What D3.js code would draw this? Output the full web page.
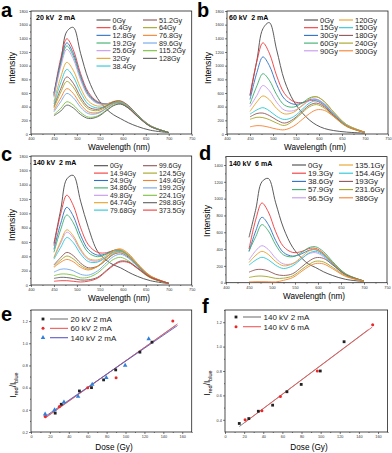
<!DOCTYPE html>
<html lang="en">
<head>
<meta charset="UTF-8" />
<title>Spectra and ratio panels</title>
<script src="https://cdn.jsdelivr.net/npm/d3@7"></script>
<style>
  body { margin: 0; background: #fff; }
  svg { display: block; font-family: Arial, "Liberation Sans", sans-serif; }
  text { white-space: pre; }
</style>
</head>
<body>
<script>
// wavelength grid shared by all spectra (nm)
const wavelengths = [450, 465, 478, 492, 508, 525, 545, 565, 580, 595, 612, 632, 660, 700];

// (a) 20 kV 2 mA
const aLabels = ["0Gy", "6.4Gy", "12.8Gy", "19.2Gy", "25.6Gy", "32Gy", "38.4Gy",
  "51.2Gy", "64Gy", "76.8Gy", "89.6Gy", "115.2Gy", "128Gy"];
const aValues = [
  [600, 1060, 1500, 1560, 1180, 800, 520, 360, 280, 225, 165, 110, 55, 20],
  [589, 1114, 1394, 1235, 885, 611, 474, 440, 456, 446, 378, 255, 109, 20],
  [569, 1066, 1334, 1182, 849, 588, 463, 440, 461, 453, 385, 260, 112, 20],
  [554, 1030, 1289, 1143, 822, 571, 456, 441, 467, 461, 393, 265, 115, 21],
  [538, 990, 1239, 1100, 791, 553, 447, 442, 472, 469, 401, 271, 116, 21],
  [475, 838, 1049, 933, 674, 480, 409, 433, 478, 482, 413, 280, 120, 22],
  [440, 754, 944, 840, 609, 436, 381, 414, 462, 468, 402, 272, 118, 22],
  [404, 666, 835, 744, 542, 395, 361, 415, 472, 483, 417, 282, 122, 23],
  [382, 614, 769, 686, 500, 368, 342, 400, 459, 471, 406, 275, 119, 22],
  [348, 530, 664, 594, 435, 324, 313, 380, 442, 456, 395, 268, 116, 22],
  [325, 474, 594, 532, 392, 298, 300, 379, 446, 464, 402, 273, 118, 22],
  [284, 376, 472, 425, 316, 247, 265, 354, 424, 444, 386, 262, 114, 21],
  [268, 337, 423, 382, 285, 227, 252, 344, 415, 437, 380, 258, 112, 21]
];

// (b) 60 kV 2 mA
const bLabels = ["0Gy", "15Gy", "30Gy", "60Gy", "90Gy", "120Gy", "150Gy", "180Gy", "240Gy", "300Gy"];
const bValues = [
  [560, 1080, 1540, 1630, 1230, 780, 480, 300, 200, 130, 80, 50, 28, 12],
  [570, 1066, 1334, 1183, 851, 592, 474, 461, 489, 483, 411, 278, 120, 22],
  [505, 900, 1128, 1002, 724, 513, 436, 457, 502, 505, 433, 293, 127, 23],
  [440, 705, 882, 787, 575, 422, 394, 462, 530, 545, 471, 319, 138, 26],
  [400, 565, 709, 634, 465, 349, 342, 420, 491, 508, 440, 299, 129, 24],
  [330, 470, 557, 502, 373, 294, 319, 430, 517, 542, 472, 320, 138, 26],
  [290, 353, 385, 340, 258, 212, 253, 371, 455, 485, 424, 288, 124, 24],
  [250, 300, 306, 270, 205, 160, 220, 342, 424, 452, 395, 269, 114, 22],
  [215, 244, 240, 210, 160, 125, 200, 321, 401, 430, 376, 256, 109, 21],
  [105, 122, 118, 98, 72, 62, 115, 221, 302, 354, 345, 254, 115, 25]
];

// (c) 140 kV 2 mA
const cLabels = ["0Gy", "14.94Gy", "24.9Gy", "34.86Gy", "49.8Gy", "64.74Gy", "79.68Gy",
  "99.6Gy", "124.5Gy", "149.4Gy", "199.2Gy", "224.1Gy", "298.8Gy", "373.5Gy"];
const cValues = [
  [580, 1060, 1480, 1530, 1170, 800, 470, 340, 280, 240, 180, 120, 60, 20],
  [550, 1001, 1253, 1112, 800, 560, 455, 451, 483, 480, 409, 277, 119, 22],
  [497, 866, 1084, 963, 696, 494, 417, 438, 481, 483, 414, 280, 120, 22],
  [457, 780, 977, 869, 630, 452, 395, 432, 482, 489, 420, 285, 123, 23],
  [381, 588, 737, 658, 480, 355, 334, 396, 456, 469, 405, 275, 118, 22],
  [383, 614, 770, 687, 502, 370, 350, 414, 477, 491, 424, 287, 125, 23],
  [361, 528, 662, 592, 434, 326, 320, 394, 460, 476, 412, 280, 121, 23],
  [280, 385, 455, 410, 306, 240, 263, 355, 428, 448, 389, 265, 115, 22],
  [259, 349, 404, 365, 274, 223, 258, 363, 442, 466, 406, 276, 119, 23],
  [246, 319, 357, 325, 247, 210, 260, 385, 476, 504, 440, 299, 129, 25],
  [180, 220, 222, 198, 149, 138, 196, 316, 399, 429, 376, 255, 109, 21],
  [130, 153, 152, 135, 100, 107, 168, 282, 359, 386, 338, 230, 99, 19],
  [92, 107, 104, 90, 70, 72, 107, 208, 285, 334, 323, 238, 109, 24],
  [52, 60, 60, 52, 42, 54, 95, 197, 274, 322, 314, 231, 106, 23]
];

// (d) 140 kV 6 mA
const dLabels = ["0Gy", "19.3Gy", "38.6Gy", "57.9Gy", "96.5Gy", "135.1Gy", "154.4Gy", "193Gy", "231.6Gy", "386Gy"];
const dValues = [
  [540, 880, 1200, 1240, 950, 650, 420, 290, 220, 180, 130, 85, 40, 14],
  [400, 757, 948, 842, 607, 430, 360, 372, 406, 408, 350, 236, 102, 19],
  [370, 621, 778, 692, 502, 360, 316, 345, 385, 391, 336, 228, 99, 18],
  [378, 552, 691, 617, 450, 331, 309, 362, 416, 427, 369, 250, 108, 20],
  [271, 382, 440, 395, 291, 223, 227, 290, 344, 357, 310, 211, 91, 17],
  [240, 327, 373, 336, 252, 201, 226, 310, 376, 395, 343, 234, 101, 19],
  [209, 270, 302, 273, 207, 169, 202, 288, 352, 372, 324, 220, 96, 18],
  [125, 155, 158, 140, 100, 86, 107, 190, 255, 297, 289, 212, 96, 21],
  [62, 77, 79, 70, 52, 54, 81, 159, 217, 255, 247, 182, 83, 18],
  [10, 12, 12, 11, 9, 28, 61, 137, 193, 228, 223, 165, 75, 16]
];

// (e) ratio vs dose
const e20Dose = [25.6, 32, 51.2, 64, 76.8, 89.6, 115.2, 128];
const e20Ratio = [0.37, 0.45, 0.57, 0.60, 0.67, 0.76, 0.92, 1.01];
const e60Dose = [15, 30, 60, 90, 150];
const e60Ratio = [0.34, 0.43, 0.60, 0.69, 1.20];
const e140Dose = [14.94, 24.9, 34.86, 49.8, 64.74, 79.68, 99.6, 124.5];
const e140Ratio = [0.36, 0.40, 0.47, 0.52, 0.63, 0.69, 0.80, 1.04];
const eFitDose = [[15, 153], [15, 155], [15, 155]];
const eFitRatio = [[0.33, 1.16], [0.325, 1.175], [0.34, 1.16]];

// (f) ratio vs dose, 2 mA vs 6 mA
const f2Dose = [14.94, 24.9, 34.86, 49.8, 64.74, 79.68, 99.6, 124.5];
const f2Ratio = [0.37, 0.41, 0.47, 0.52, 0.63, 0.69, 0.80, 1.04];
const f6Dose = [21, 38.6, 57.9, 96.5, 154.4];
const f6Ratio = [0.40, 0.475, 0.59, 0.80, 1.18];
const fFitDose = [[15, 150], [21, 154]];
const fFitRatio = [[0.345, 1.14], [0.38, 1.16]];

const col = {
  gray: "#4a4a4a", red: "#f2383a", blue: "#2c6fc4", green: "#3aae6c", violet: "#c597ee",
  gold: "#e6a126", cyan: "#28c6d6", brown: "#8e5656", olive: "#a3a322", orange: "#f5802e",
  lblue: "#6fa6ea", lgreen: "#79c13e", dgray: "#5e5e5e"
};
const pal10 = [col.gray, col.red, col.blue, col.green, col.violet, col.gold, col.cyan, col.brown, col.olive, col.orange];
const pal14 = pal10.concat([col.lblue, col.lgreen, col.dgray, col.red]);

const svg = d3.select("body").append("svg").attr("width", 392).attr("height", 453);

function axesBox(x, y, xMajor, xMinor, yMajor, yMinor, yFmt) {
  const [x0, x1] = x.range();
  const [yb, yt] = y.range();
  const g = svg.append("g");
  g.append("g").attr("transform", `translate(0,${yb})`)
    .call(d3.axisBottom(x).tickValues(xMinor).tickSize(1).tickFormat(""));
  g.append("g").attr("transform", `translate(0,${yb})`)
    .call(d3.axisBottom(x).tickValues(xMajor).tickSize(2).tickPadding(1.2));
  g.append("g").attr("transform", `translate(${x0},0)`)
    .call(d3.axisLeft(y).tickValues(yMinor).tickSize(1).tickFormat(""));
  g.append("g").attr("transform", `translate(${x0},0)`)
    .call(d3.axisLeft(y).tickValues(yMajor).tickSize(2).tickPadding(1.2).tickFormat(yFmt));
  g.selectAll(".domain").remove();
  g.selectAll(".tick line").attr("stroke", "#222").attr("stroke-width", 0.6);
  g.selectAll(".tick text").attr("font-size", 3.8).attr("fill", "#333");
  g.selectAll("g").attr("font-family", null);
  g.append("rect")
    .attr("x", x0).attr("y", yt).attr("width", x1 - x0).attr("height", yb - yt)
    .attr("fill", "none").attr("stroke", "#222").attr("stroke-width", 0.8);
}

function panelLetter(s, x, y) {
  svg.append("text").attr("x", x).attr("y", y).attr("font-size", 20)
    .attr("font-weight", "bold").text(s);
}

function spectrum(p) {
  const x = d3.scaleLinear().domain([400, 750]).range(p.xr);
  const y = d3.scaleLinear().domain(p.yd).range(p.yr);
  const yMajor = d3.range(0, p.yd[1] + 1, 200);
  const yMinor = d3.range(100, p.yd[1] + 1, 200);
  axesBox(x, y, d3.range(400, 751, 50), d3.range(425, 750, 50), yMajor, yMinor, d3.format("d"));

  const line = d3.line().curve(d3.curveCatmullRom.alpha(0.5))
    .x((v, i) => x(wavelengths[i])).y(v => y(v));
  svg.append("g").selectAll("path").data(p.values).join("path")
    .attr("d", line).attr("fill", "none")
    .attr("stroke", (d, i) => p.colors[i]).attr("stroke-width", 0.9);

  // legend
  const lg = svg.append("g").attr("font-size", p.leg.fs).attr("fill", "#222");
  p.labels.forEach((lab, i) => {
    const c = i < p.perCol ? 0 : 1;
    const r = i < p.perCol ? i : i - p.perCol;
    const ly = p.leg.y0 + r * p.leg.dy;
    const lx = p.leg.cols[c];
    lg.append("line").attr("x1", lx).attr("x2", lx + 14).attr("y1", ly).attr("y2", ly)
      .attr("stroke", p.colors[i]).attr("stroke-width", 1.1);
    lg.append("text").attr("x", lx + 16).attr("y", ly + p.leg.fs * 0.36).text(lab);
  });
  svg.append("text").attr("x", p.title[0]).attr("y", p.title[1])
    .attr("font-size", 7).attr("font-weight", "bold").text(p.titleText);

  svg.append("text").attr("x", p.xr[0] + 88).attr("y", p.yr[0] + 16)
    .attr("text-anchor", "middle").attr("font-size", 8.2).text("Wavelength (nm)");
  svg.append("text")
    .attr("transform", `translate(${p.xr[0] - 16},${p.ylabY}) rotate(-90)`)
    .attr("text-anchor", "middle").attr("font-size", 8.6).text("Intensity");
}

spectrum({
  xr: [31, 191.7], yr: [134, 11], yd: [0, 1800], values: aValues, labels: aLabels,
  colors: [col.gray, col.red, col.blue, col.green, col.violet, col.gold, col.cyan,
    col.brown, col.olive, col.orange, col.lblue, col.lgreen, col.dgray],
  perCol: 7, leg: { y0: 20, dy: 7.67, cols: [96.5, 143], fs: 7.2 },
  title: [36, 20], titleText: "20 kV  2 mA", ylabY: 68
});
spectrum({
  xr: [227, 388], yr: [134, 11], yd: [0, 1800], values: bValues, labels: bLabels,
  colors: pal10, perCol: 5, leg: { y0: 20, dy: 7.7, cols: [304, 339], fs: 7.5 },
  title: [229, 20], titleText: "60 kV  2 mA", ylabY: 68
});
spectrum({
  xr: [31, 191.7], yr: [285, 156], yd: [0, 1800], values: cValues, labels: cLabels,
  colors: pal14, perCol: 7, leg: { y0: 165.7, dy: 7.4, cols: [94, 143], fs: 6.9 },
  title: [33, 165], titleText: "140 kV  2 mA", ylabY: 225
});
spectrum({
  xr: [226, 387], yr: [282.7, 156.6], yd: [0, 1500], values: dValues, labels: dLabels,
  colors: pal10, perCol: 5, leg: { y0: 165, dy: 8.2, cols: [292, 339], fs: 7.8 },
  title: [229, 166], titleText: "140 kV  6 mA", ylabY: 221
});

function marker(g, kind, cx, cy, color) {
  if (kind === "square") {
    g.append("rect").attr("x", cx - 1.4).attr("y", cy - 1.4).attr("width", 2.8).attr("height", 2.8).attr("fill", color);
  } else if (kind === "circle") {
    g.append("circle").attr("cx", cx).attr("cy", cy).attr("r", 1.5).attr("fill", color);
  } else {
    g.append("path").attr("d", d3.symbol(d3.symbolTriangle, 9)()).attr("transform", `translate(${cx},${cy})`).attr("fill", color);
  }
}

function ratioPanel(p) {
  const x = d3.scaleLinear().domain([0, 170]).range(p.xr);
  const y = d3.scaleLinear().domain(p.yd).range(p.yr);
  const yMajor = d3.range(Math.ceil(p.yd[0] * 5 - 1e-9) / 5, p.yd[1] + 1e-9, 0.2).map(v => +v.toFixed(1));
  const yMinor = d3.range(0.3, p.yd[1] + 1e-9, 0.2).map(v => +v.toFixed(1)).filter(v => v > p.yd[0]);
  axesBox(x, y, d3.range(0, 161, 20), d3.range(10, 171, 20), yMajor, yMinor, d3.format(".1f"));

  const g = svg.append("g");
  p.series.forEach(s => {
    g.append("path")
      .attr("d", d3.line().x((d, i) => x(s.fitX[i])).y(d => y(d))(s.fitY))
      .attr("fill", "none").attr("stroke", s.lineColor).attr("stroke-width", 0.9);
  });
  p.series.forEach(s => {
    s.dose.forEach((d, i) => marker(g, s.kind, x(d), y(s.ratio[i]), s.color));
  });

  const lg = svg.append("g").attr("font-size", 8).attr("fill", "#222");
  p.series.forEach((s, i) => {
    const ly = p.leg.y0 + i * p.leg.dy;
    marker(lg, s.kind, p.leg.mx, ly, s.color);
    lg.append("line").attr("x1", p.leg.lx).attr("x2", p.leg.lx + 18).attr("y1", ly).attr("y2", ly)
      .attr("stroke", s.lineColor).attr("stroke-width", 1.1);
    lg.append("text").attr("x", p.leg.lx + 20.5).attr("y", ly + 2.9).text(s.name);
  });

  svg.append("text").attr("x", p.xlabX).attr("y", 450)
    .attr("text-anchor", "middle").attr("font-size", 8.2).text("Dose (Gy)");
  const yl = svg.append("text")
    .attr("transform", `translate(${p.xr[0] - 15},${p.ylabY}) rotate(-90)`)
    .attr("text-anchor", "middle").attr("font-size", 8.2);
  yl.append("tspan").text("I");
  yl.append("tspan").attr("font-size", 5.5).attr("dy", 1.8).text("red");
  yl.append("tspan").attr("dy", -1.8).text("/I");
  yl.append("tspan").attr("font-size", 5.5).attr("dy", 1.8).text("blue");
}

ratioPanel({
  xr: [31, 191.7], yr: [432, 310], yd: [0.2, 1.3], xlabX: 114, ylabY: 385,
  leg: { y0: 319, dy: 9.35, mx: 43, lx: 50 },
  series: [
    { name: "20 kV 2 mA", dose: e20Dose, ratio: e20Ratio, kind: "square", color: "#222", lineColor: "#777", fitX: eFitDose[0], fitY: eFitRatio[0] },
    { name: "60 kV 2 mA", dose: e60Dose, ratio: e60Ratio, kind: "circle", color: "#e8282a", lineColor: "#f05a5a", fitX: eFitDose[1], fitY: eFitRatio[1] },
    { name: "140 kV 2 mA", dose: e140Dose, ratio: e140Ratio, kind: "triangle", color: "#2f7fdc", lineColor: "#5a5ac8", fitX: eFitDose[2], fitY: eFitRatio[2] }
  ]
});
ratioPanel({
  xr: [225, 387.6], yr: [432, 310], yd: [0.3, 1.3], xlabX: 309, ylabY: 383,
  leg: { y0: 317, dy: 9.7, mx: 236, lx: 243 },
  series: [
    { name: "140 kV 2 mA", dose: f2Dose, ratio: f2Ratio, kind: "square", color: "#222", lineColor: "#777", fitX: fFitDose[0], fitY: fFitRatio[0] },
    { name: "140 kV 6 mA", dose: f6Dose, ratio: f6Ratio, kind: "circle", color: "#e8282a", lineColor: "#f05a5a", fitX: fFitDose[1], fitY: fFitRatio[1] }
  ]
});

panelLetter("a", 1, 17);
panelLetter("b", 197, 17);
panelLetter("c", 1, 161);
panelLetter("d", 199, 160);
panelLetter("e", 1, 321);
panelLetter("f", 202, 313);
</script>
</body>
</html>
